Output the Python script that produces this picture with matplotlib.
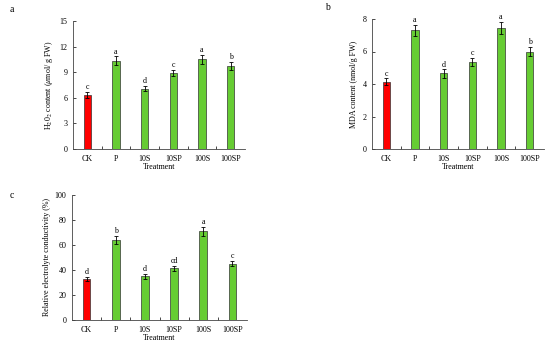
import matplotlib
matplotlib.use("Agg")
import matplotlib.pyplot as plt
import numpy as np

# ----------------------------
# DATA
# ----------------------------
treatments = ["CK", "P", "10S", "10SP", "100S", "100SP"]

h2o2_mean = [6.3, 10.35, 7.05, 8.9, 10.5, 9.75]
h2o2_err = [0.35, 0.5, 0.3, 0.4, 0.5, 0.45]
h2o2_letters = ["c", "a", "d", "c", "a", "b"]

mda_mean = [4.15, 7.3, 4.65, 5.35, 7.45, 6.0]
mda_err = [0.2, 0.35, 0.25, 0.25, 0.35, 0.3]
mda_letters = ["c", "a", "d", "c", "a", "b"]

rec_mean = [33, 64, 35, 41.5, 71, 45]
rec_err = [1.5, 3.0, 2.0, 2.0, 3.5, 2.0]
rec_letters = ["d", "b", "d", "cd", "a", "c"]

# ----------------------------
# STYLE
# ----------------------------
plt.rcParams["font.family"] = ["Liberation Serif", "DejaVu Serif"]
plt.rcParams["mathtext.fontset"] = "stix"
FS = 5.8
RED = "#ff0000"
GREEN = "#66cc33"
W, H = 550, 344


def px_axes(fig, left, top, right, bottom):
    return fig.add_axes([left / W, (H - bottom) / H, (right - left) / W, (bottom - top) / H])


def draw_panel(ax, means, errs, letters, ymax, ystep, ylabel, letter_pad):
    x = np.arange(len(treatments))
    colors = [RED] + [GREEN] * (len(treatments) - 1)
    ax.bar(x, means, width=0.26, color=colors, edgecolor="#333333", linewidth=0.5, zorder=2)
    ax.errorbar(x, means, yerr=errs, fmt="none", ecolor="black", elinewidth=0.6,
                capsize=1.5, capthick=0.6, zorder=3)
    for xi, m, e, t in zip(x, means, errs, letters):
        ax.text(xi, m + e + letter_pad, t, ha="center", va="bottom", fontsize=FS)
    ax.set_xlim(-0.5, len(treatments) - 0.5)
    ax.set_ylim(0, ymax)
    ax.set_yticks(np.arange(0, ymax + ystep / 2, ystep))
    ax.set_xticks(x)
    ax.set_xticklabels(treatments, fontsize=FS)
    ax.set_xticks(np.arange(0.5, len(treatments) - 0.5, 1), minor=True)
    ax.tick_params(axis="x", which="major", length=0, pad=4)
    ax.tick_params(axis="x", which="minor", length=2, width=0.5, direction="in")
    ax.tick_params(axis="y", labelsize=FS, length=2, width=0.5, direction="in", pad=4)
    for s in ["top", "right"]:
        ax.spines[s].set_visible(False)
    for s in ["left", "bottom"]:
        ax.spines[s].set_linewidth(0.6)
        ax.spines[s].set_color("#444444")
    ax.set_xlabel("Treatment", fontsize=FS, labelpad=0.5)
    ax.set_ylabel(ylabel, fontsize=FS, labelpad=3)


fig = plt.figure(figsize=(5.5, 3.44), dpi=100)

ax_a = px_axes(fig, 73, 21, 245, 149)
draw_panel(ax_a, h2o2_mean, h2o2_err, h2o2_letters, 15, 3,
           r"H$_2$0$_2$ content ($\mu$mol/ g FW)", 0.1)

ax_b = px_axes(fig, 372, 19, 544, 149)
draw_panel(ax_b, mda_mean, mda_err, mda_letters, 8, 2,
           "MDA content (nmol/g FW)", 0.05)

ax_c = px_axes(fig, 72, 195, 247, 320)
draw_panel(ax_c, rec_mean, rec_err, rec_letters, 100, 20,
           "Relative electrolyte conductivity (%)", 0.8)

fig.text(10 / W, 1 - 10 / H, "a", fontsize=7, ha="left", va="center")
fig.text(325 / W, 1 - 8 / H, "b", fontsize=7, ha="left", va="center")
fig.text(10 / W, 1 - 196 / H, "c", fontsize=7, ha="left", va="center")

plt.savefig("out.png", dpi=100)
plt.close()
